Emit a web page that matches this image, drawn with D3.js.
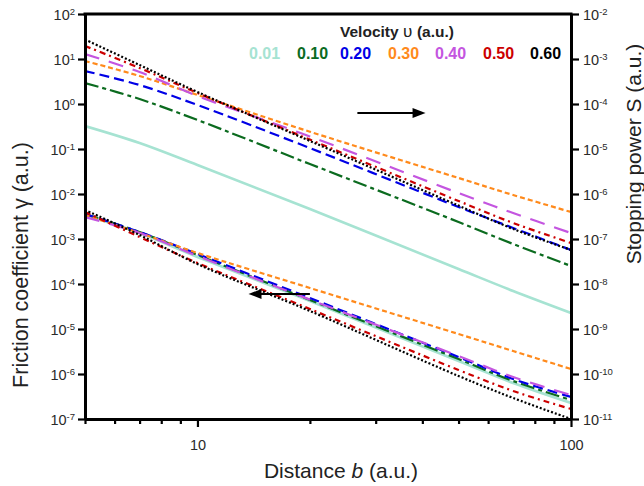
<!DOCTYPE html>
<html>
<head>
<meta charset="utf-8">
<script src="https://cdn.jsdelivr.net/npm/d3@7"></script>
<style>
body { margin: 0; background: #fff; }
svg { font-family: "Liberation Sans", Arial, sans-serif; }
</style>
</head>
<body>
<svg id="chart" width="644" height="486"></svg>
<script>
// Distance b (a.u.) sample points
const distance = [5, 7, 10, 20, 50, 70, 100];
const velocities = ["0.01", "0.10", "0.20", "0.30", "0.40", "0.50", "0.60"];

// Stopping power S (a.u.), read on right axis
const stopV001 = [3.24e-5, 1.36e-5, 4.41e-6, 4.64e-7, 2.15e-8, 6.99e-9, 2.27e-9];
const stopV010 = [2.93e-4, 1.29e-4, 4.41e-5, 4.64e-6, 2.39e-7, 7.74e-8, 2.51e-8];
const stopV020 = [5.41e-4, 2.64e-4, 9.50e-5, 1.05e-5, 5.14e-7, 1.76e-7, 5.70e-8];
const stopV030 = [9.03e-4, 4.19e-4, 1.59e-4, 2.42e-5, 2.27e-6, 9.50e-7, 3.98e-7];
const stopV040 = [1.29e-3, 5.14e-4, 1.51e-4, 1.90e-5, 1.05e-6, 3.78e-7, 1.36e-7];
const stopV050 = [1.95e-3, 6.31e-4, 1.76e-4, 1.62e-5, 6.99e-7, 2.27e-7, 8.15e-8];
const stopV060 = [2.71e-3, 7.35e-4, 1.85e-4, 1.51e-5, 5.52e-7, 1.67e-7, 5.70e-8];

// Friction coefficient gamma (a.u.), read on left axis
const fricV001 = [3.41e-3, 1.36e-3, 3.98e-4, 4.19e-5, 1.95e-6, 6.31e-7, 2.27e-7];
const fricV010 = [3.59e-3, 1.43e-3, 4.41e-4, 4.41e-5, 2.15e-6, 6.99e-7, 2.64e-7];
const fricV020 = [3.59e-3, 1.43e-3, 4.64e-4, 4.89e-5, 2.39e-6, 7.74e-7, 3.08e-7];
const fricV030 = [3.41e-3, 1.36e-3, 4.89e-4, 8.15e-5, 7.74e-6, 3.24e-6, 1.29e-6];
const fricV040 = [3.08e-3, 1.36e-3, 4.19e-4, 4.50e-5, 2.51e-6, 8.58e-7, 3.41e-7];
const fricV050 = [3.98e-3, 1.11e-3, 2.93e-4, 2.78e-5, 1.23e-6, 4.19e-7, 1.67e-7];
const fricV060 = [4.41e-3, 1.23e-3, 2.78e-4, 2.51e-5, 9.03e-7, 2.93e-7, 1.00e-7];

const stopSeries = [stopV001, stopV010, stopV020, stopV030, stopV040, stopV050, stopV060];
const fricSeries = [fricV001, fricV010, fricV020, fricV030, fricV040, fricV050, fricV060];

// Axis ticks
const leftTicks = [1e2, 1e1, 1e0, 1e-1, 1e-2, 1e-3, 1e-4, 1e-5, 1e-6, 1e-7];
const rightTicks = [1e-2, 1e-3, 1e-4, 1e-5, 1e-6, 1e-7, 1e-8, 1e-9, 1e-10, 1e-11];
const xMajor = [10, 100];
const xMinor = [5, 6, 7, 8, 9, 20, 30, 40, 50, 60, 70, 80, 90];

// Styles
const colors = ["#a6e3d2", "#0b6b1f", "#0000e6", "#ff8a1c", "#c455e0", "#cc0000", "#000000"];
const dashes = [null, "14,4,4,4", "10,5", "5,3", "15,10", "6,4,2,4", "2,2"];
const legendX = [249, 297, 340, 388, 435, 483, 530];

const mLeft = 85, mRight = 571, mTop = 14, mBottom = 419;

const svg = d3.select("#chart");

const x = d3.scaleLog().domain([5, 100]).range([mLeft, mRight]);
const yL = d3.scaleLog().domain([1e-7, 1e2]).range([mBottom, mTop]);
const yR = d3.scaleLog().domain([1e-11, 1e-2]).range([mBottom, mTop]);

svg.append("defs").append("clipPath").attr("id", "plotClip")
    .append("rect")
    .attr("x", mLeft).attr("y", mTop)
    .attr("width", mRight - mLeft).attr("height", mBottom - mTop);

const plot = svg.append("g").attr("clip-path", "url(#plotClip)");

function drawGroup(series, yScale) {
    const line = d3.line()
        .x((d, i) => x(distance[i]))
        .y(d => yScale(d))
        .curve(d3.curveCatmullRom.alpha(0.5));
    series.forEach((s, k) => {
        plot.append("path")
            .attr("d", line(s))
            .attr("fill", "none")
            .attr("stroke", colors[k])
            .attr("stroke-width", k === 0 ? 2.6 : 2.2)
            .attr("stroke-dasharray", dashes[k]);
    });
}
drawGroup(stopSeries, yR);
drawGroup(fricSeries, yL);

// Superscript labels 10^n
function powLabel(sel, v) {
    const e = Math.round(Math.log10(v));
    sel.text(null);
    sel.append("tspan").text("10");
    sel.append("tspan").attr("dy", "-0.5em").attr("font-size", 9.5).text(e);
}

// Left axis
const gL = svg.append("g").attr("transform", `translate(${mLeft},0)`)
    .call(d3.axisLeft(yL).tickValues(leftTicks).tickSize(7).tickSizeOuter(0));
gL.selectAll(".tick text").each(function(d) {
    d3.select(this).attr("x", -10).attr("dy", "0.35em").call(powLabel, d);
});

// Right axis
const gR = svg.append("g").attr("transform", `translate(${mRight},0)`)
    .call(d3.axisRight(yR).tickValues(rightTicks).tickSize(8).tickSizeOuter(0));
gR.selectAll(".tick text").each(function(d) {
    d3.select(this).attr("x", 12).attr("dy", "0.35em").call(powLabel, d);
});

// Bottom axis: minor then major
svg.append("g").attr("transform", `translate(0,${mBottom})`)
    .call(d3.axisBottom(x).tickValues(xMinor).tickSize(5).tickSizeOuter(0).tickFormat(""));
const gB = svg.append("g").attr("transform", `translate(0,${mBottom})`)
    .call(d3.axisBottom(x).tickValues(xMajor).tickSize(8).tickSizeOuter(0).tickFormat(d3.format("d")));
gB.selectAll(".tick text").attr("y", 31).attr("dy", 0);

// Top frame line
svg.append("line")
    .attr("x1", mLeft - 1.5).attr("x2", mRight + 1.5)
    .attr("y1", mTop).attr("y2", mTop)
    .attr("stroke", "#000").attr("stroke-width", 3);

svg.selectAll(".domain").attr("stroke-width", 3);
svg.selectAll(".tick line").attr("stroke-width", 2.2);
svg.selectAll(".tick text").attr("font-size", 14.5).attr("fill", "#2a2a2a")
    .attr("font-family", "Liberation Sans, Arial, sans-serif");

// Axis titles
svg.append("text")
    .attr("transform", "translate(28,265) rotate(-90)")
    .attr("text-anchor", "middle")
    .attr("font-size", 21.5).attr("fill", "#222")
    .text("Friction coefficient γ (a.u.)");

svg.append("text")
    .attr("transform", "translate(641,154) rotate(-90)")
    .attr("text-anchor", "middle")
    .attr("font-size", 21).attr("fill", "#222")
    .text("Stopping power S (a.u.)");

const xt = svg.append("text")
    .attr("x", (mLeft + mRight) / 2 + 13).attr("y", 478)
    .attr("text-anchor", "middle")
    .attr("font-size", 21).attr("fill", "#222");
xt.append("tspan").text("Distance ");
xt.append("tspan").attr("font-style", "italic").text("b");
xt.append("tspan").text(" (a.u.)");

// Legend
const lt = svg.append("text")
    .attr("x", 340).attr("y", 37)
    .attr("font-size", 15.5).attr("font-weight", "bold").attr("fill", "#222");
lt.append("tspan").text("Velocity ");
lt.append("tspan").attr("font-weight", "normal").attr("font-size", 17).text(" υ ");
lt.append("tspan").text("(a.u.)");

svg.selectAll(".legendVal")
    .data(velocities)
    .enter()
    .append("text")
    .attr("class", "legendVal")
    .attr("x", (d, i) => legendX[i])
    .attr("y", 59)
    .attr("font-size", 16)
    .attr("font-weight", "bold")
    .attr("fill", (d, i) => colors[i])
    .text(d => d);

// Arrows pointing to the relevant axis
function arrow(x1, x2, yPix) {
    const dir = Math.sign(x2 - x1);
    const head = 13;
    svg.append("line")
        .attr("x1", x1).attr("x2", x2 - dir * head + dir)
        .attr("y1", yPix).attr("y2", yPix)
        .attr("stroke", "#000").attr("stroke-width", 2);
    svg.append("path")
        .attr("d", `M${x2},${yPix} L${x2 - dir * head},${yPix - 5} L${x2 - dir * head},${yPix + 5} Z`)
        .attr("fill", "#000");
}
arrow(x(26.8), x(40.8), yR(6.3e-5));
arrow(x(20), x(13.7), yL(6.0e-5));
</script>
</body>
</html>
